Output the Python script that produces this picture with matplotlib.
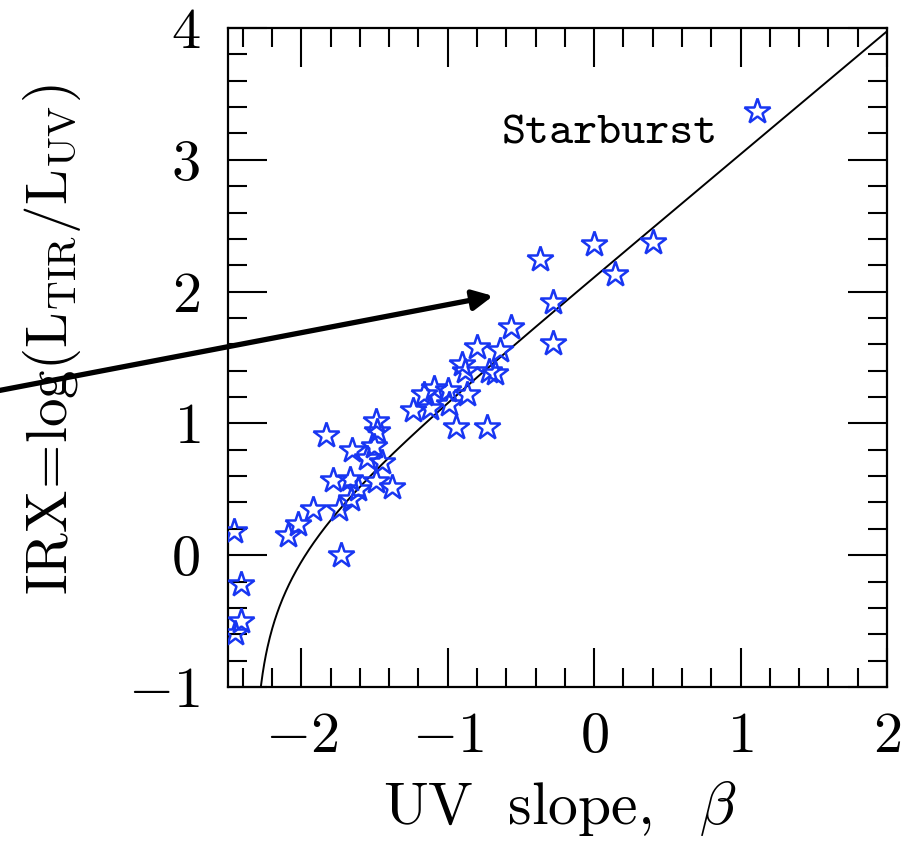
import numpy as np
import matplotlib
matplotlib.use("Agg")
import matplotlib.pyplot as plt
from matplotlib.ticker import MultipleLocator, FuncFormatter

plt.rcParams['mathtext.fontset'] = 'cm'
plt.rcParams['font.family'] = 'serif'
plt.rcParams['font.serif'] = ['cmr10', 'DejaVu Serif']
plt.rcParams['axes.unicode_minus'] = False

# UV slope and IRX for each galaxy
beta = [1.11, -0.37, 0.00, 0.40, 0.14, -0.28, -0.28, -0.57, -0.64, -0.80,
        -0.90, -0.88, -0.72, -0.68, -0.87, -0.94, -0.73, -1.09, -1.00, -1.16,
        -1.24, -1.12, -0.99,
        -1.83, -1.65, -1.49, -1.48, -1.50, -1.55, -1.45, -1.78, -1.67, -1.61,
        -1.49, -1.38, -1.66, -1.74, -1.92, -2.02, -2.09, -1.73, -2.46, -2.41,
        -2.41, -2.45]
irx = [3.37, 2.25, 2.36, 2.38, 2.13, 1.92, 1.61, 1.73, 1.56, 1.58,
       1.45, 1.40, 1.40, 1.38, 1.22, 0.97, 0.97, 1.27, 1.25, 1.22,
       1.10, 1.12, 1.15,
       0.91, 0.80, 1.02, 0.94, 0.83, 0.74, 0.71, 0.57, 0.58, 0.50,
       0.56, 0.52, 0.43, 0.35, 0.35, 0.24, 0.15, 0.00, 0.18, -0.22,
       -0.50, -0.59]

# starburst relation: A_UV = a + b*beta, IRX = log(10^(0.4 A) - 1) + offset
a_uv = 5.42
b_uv = 2.33
irx_offset = -0.057

fig = plt.figure(figsize=(9.10, 8.46), dpi=100)
ax = fig.add_axes([228 / 910, 1 - 687 / 846, 659 / 910, 659 / 846])

bb = np.linspace(-2.329, 2.05, 800)
a_1600 = a_uv + b_uv * bb
curve = np.log10(np.clip(10 ** (0.4 * a_1600) - 1, 1e-6, None)) + irx_offset
ax.plot(bb, curve, color='black', lw=1.4, zorder=2)

ax.plot(beta, irx, linestyle='none', marker='*', markersize=19,
        markerfacecolor='none', markeredgecolor='#1836f2',
        markeredgewidth=1.8, zorder=3)

ax.text(0.11, 3.19, 'Starburst', family='cmtt10', fontsize=33,
        ha='center', va='center')

# arrow coming in from the left
ax.annotate('', xy=(-0.69, 1.967), xytext=(-4.06, 1.25),
            arrowprops=dict(arrowstyle='-|>,head_length=0.6,head_width=0.3',
                            lw=3.8, color='black', shrinkA=0, shrinkB=0,
                            mutation_scale=20),
            annotation_clip=False, zorder=5)

ax.set_xlim(-2.5, 2.0)
ax.set_ylim(-1.0, 4.0)

ax.xaxis.set_major_locator(MultipleLocator(1))
ax.xaxis.set_minor_locator(MultipleLocator(0.2))
ax.yaxis.set_major_locator(MultipleLocator(1))
ax.yaxis.set_minor_locator(MultipleLocator(0.2))
fmt = FuncFormatter(lambda v, p: r'$%d$' % round(v))
ax.xaxis.set_major_formatter(fmt)
ax.yaxis.set_major_formatter(fmt)

ax.tick_params(which='both', direction='in', top=True, right=True,
               width=1.5, labelsize=42)
ax.tick_params(which='major', length=28)
ax.tick_params(which='minor', length=14)
ax.tick_params(axis='x', which='major', pad=18)
ax.tick_params(axis='y', which='major', pad=20)
for sp in ax.spines.values():
    sp.set_linewidth(1.6)

ax.set_xlabel(r'$\mathrm{UV\ \ slope,}\ \ \beta$', fontsize=43)
ax.set_ylabel(r'$\mathrm{IRX\!=\!log(L_{TIR}/L_{UV})}$', fontsize=41)
ax.xaxis.set_label_coords(0.504, -0.14)
ax.yaxis.set_label_coords(-0.22, 0.527)

plt.savefig('out.png', dpi=100, facecolor='white')
plt.close()
